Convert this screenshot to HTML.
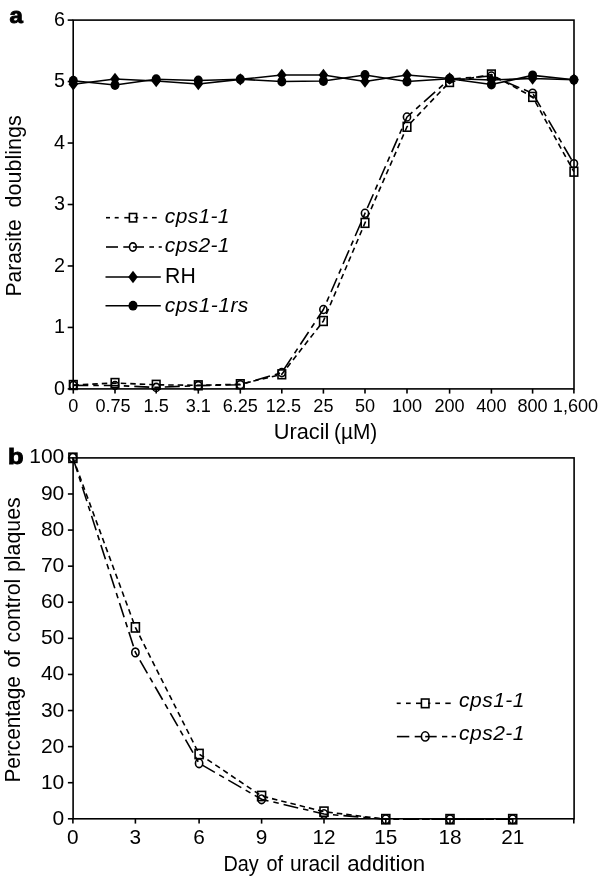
<!DOCTYPE html>
<html><head><meta charset="utf-8"><title>Figure</title>
<style>
html,body{margin:0;padding:0;background:#fff;}
body{width:600px;height:879px;overflow:hidden;}
svg{display:block;}
text{font-family:"Liberation Sans",sans-serif;fill:#000;}
.it{font-style:italic;}
.ls{letter-spacing:0.45px;}
.ls2{letter-spacing:0.8px;}
.pl{font-weight:bold;stroke:#000;stroke-width:0.9px;}
</style></head>
<body>
<svg width="600" height="879" viewBox="0 0 600 879">
<rect x="0" y="0" width="600" height="879" fill="#fff"/>
<rect x="73.2" y="20.1" width="500.80" height="368.80" fill="none" stroke="#000" stroke-width="1.6"/>
<line x1="67.70" y1="388.90" x2="73.20" y2="388.90" stroke="#000" stroke-width="1.6"/>
<text x="64.9" y="394.6" font-size="19.8" text-anchor="end">0</text>
<line x1="67.70" y1="327.43" x2="73.20" y2="327.43" stroke="#000" stroke-width="1.6"/>
<text x="64.9" y="333.13" font-size="19.8" text-anchor="end">1</text>
<line x1="67.70" y1="265.97" x2="73.20" y2="265.97" stroke="#000" stroke-width="1.6"/>
<text x="64.9" y="271.67" font-size="19.8" text-anchor="end">2</text>
<line x1="67.70" y1="204.50" x2="73.20" y2="204.50" stroke="#000" stroke-width="1.6"/>
<text x="64.9" y="210.2" font-size="19.8" text-anchor="end">3</text>
<line x1="67.70" y1="143.03" x2="73.20" y2="143.03" stroke="#000" stroke-width="1.6"/>
<text x="64.9" y="148.73" font-size="19.8" text-anchor="end">4</text>
<line x1="67.70" y1="81.57" x2="73.20" y2="81.57" stroke="#000" stroke-width="1.6"/>
<text x="64.9" y="87.27" font-size="19.8" text-anchor="end">5</text>
<line x1="67.70" y1="20.10" x2="73.20" y2="20.10" stroke="#000" stroke-width="1.6"/>
<text x="64.9" y="25.8" font-size="19.8" text-anchor="end">6</text>
<line x1="73.30" y1="388.90" x2="73.30" y2="393.60" stroke="#000" stroke-width="1.6"/>
<text x="73.3" y="411.7" font-size="18.1" text-anchor="middle">0</text>
<line x1="115.00" y1="388.90" x2="115.00" y2="393.60" stroke="#000" stroke-width="1.6"/>
<text x="113.0" y="411.7" font-size="18.1" text-anchor="middle">0.75</text>
<line x1="156.20" y1="388.90" x2="156.20" y2="393.60" stroke="#000" stroke-width="1.6"/>
<text x="156.2" y="411.7" font-size="18.1" text-anchor="middle">1.5</text>
<line x1="198.30" y1="388.90" x2="198.30" y2="393.60" stroke="#000" stroke-width="1.6"/>
<text x="198.3" y="411.7" font-size="18.1" text-anchor="middle">3.1</text>
<line x1="240.30" y1="388.90" x2="240.30" y2="393.60" stroke="#000" stroke-width="1.6"/>
<text x="240.3" y="411.7" font-size="18.1" text-anchor="middle">6.25</text>
<line x1="281.80" y1="388.90" x2="281.80" y2="393.60" stroke="#000" stroke-width="1.6"/>
<text x="283.4" y="411.7" font-size="18.1" text-anchor="middle">12.5</text>
<line x1="323.40" y1="388.90" x2="323.40" y2="393.60" stroke="#000" stroke-width="1.6"/>
<text x="323.4" y="411.7" font-size="18.1" text-anchor="middle">25</text>
<line x1="365.00" y1="388.90" x2="365.00" y2="393.60" stroke="#000" stroke-width="1.6"/>
<text x="365" y="411.7" font-size="18.1" text-anchor="middle">50</text>
<line x1="407.00" y1="388.90" x2="407.00" y2="393.60" stroke="#000" stroke-width="1.6"/>
<text x="407" y="411.7" font-size="18.1" text-anchor="middle">100</text>
<line x1="449.60" y1="388.90" x2="449.60" y2="393.60" stroke="#000" stroke-width="1.6"/>
<text x="449.6" y="411.7" font-size="18.1" text-anchor="middle">200</text>
<line x1="491.40" y1="388.90" x2="491.40" y2="393.60" stroke="#000" stroke-width="1.6"/>
<text x="491.4" y="411.7" font-size="18.1" text-anchor="middle">400</text>
<line x1="532.60" y1="388.90" x2="532.60" y2="393.60" stroke="#000" stroke-width="1.6"/>
<text x="532.6" y="411.7" font-size="18.1" text-anchor="middle">800</text>
<line x1="573.90" y1="388.90" x2="573.90" y2="393.60" stroke="#000" stroke-width="1.6"/>
<text x="575.5" y="411.7" font-size="18.1" text-anchor="middle">1,600</text>
<polyline points="73.30,385.00 115.00,383.00 156.20,384.80 198.30,385.30 240.30,384.20 281.80,374.30 323.40,321.00 365.00,222.90 407.00,126.80 449.60,82.00 491.40,74.50 532.60,96.90 573.90,171.70" fill="none" stroke="#000" stroke-width="1.6" stroke-linejoin="round" stroke-dasharray="5.5 4"/>
<polyline points="73.30,385.40 115.00,385.50 156.20,387.40 198.30,385.60 240.30,384.70 281.80,372.60 323.40,309.50 365.00,213.30 407.00,117.00 449.60,79.00 491.40,76.00 532.60,93.20 573.90,163.70" fill="none" stroke="#000" stroke-width="1.6" stroke-linejoin="round" stroke-dasharray="15 5 5.5 5"/>
<polyline points="73.30,84.20 115.00,79.00 156.20,81.00 198.30,84.00 240.30,79.40 281.80,75.00 323.40,75.00 365.00,81.50 407.00,75.00 449.60,78.50 491.40,80.00 532.60,78.50 573.90,79.70" fill="none" stroke="#000" stroke-width="1.6" stroke-linejoin="round"/>
<polyline points="73.30,80.80 115.00,85.00 156.20,79.20 198.30,80.50 240.30,79.30 281.80,81.50 323.40,81.00 365.00,75.00 407.00,81.50 449.60,78.70 491.40,84.50 532.60,75.40 573.90,79.70" fill="none" stroke="#000" stroke-width="1.6" stroke-linejoin="round"/>
<rect x="69.50" y="380.60" width="7.6" height="8.8" fill="none" stroke="#000" stroke-width="1.6"/>
<rect x="111.20" y="378.60" width="7.6" height="8.8" fill="none" stroke="#000" stroke-width="1.6"/>
<rect x="152.40" y="380.40" width="7.6" height="8.8" fill="none" stroke="#000" stroke-width="1.6"/>
<rect x="194.50" y="380.90" width="7.6" height="8.8" fill="none" stroke="#000" stroke-width="1.6"/>
<rect x="236.50" y="379.80" width="7.6" height="8.8" fill="none" stroke="#000" stroke-width="1.6"/>
<rect x="278.00" y="369.90" width="7.6" height="8.8" fill="none" stroke="#000" stroke-width="1.6"/>
<rect x="319.60" y="316.60" width="7.6" height="8.8" fill="none" stroke="#000" stroke-width="1.6"/>
<rect x="361.20" y="218.50" width="7.6" height="8.8" fill="none" stroke="#000" stroke-width="1.6"/>
<rect x="403.20" y="122.40" width="7.6" height="8.8" fill="none" stroke="#000" stroke-width="1.6"/>
<rect x="445.80" y="77.60" width="7.6" height="8.8" fill="none" stroke="#000" stroke-width="1.6"/>
<rect x="487.60" y="70.10" width="7.6" height="8.8" fill="none" stroke="#000" stroke-width="1.6"/>
<rect x="528.80" y="92.50" width="7.6" height="8.8" fill="none" stroke="#000" stroke-width="1.6"/>
<rect x="570.10" y="167.30" width="7.6" height="8.8" fill="none" stroke="#000" stroke-width="1.6"/>
<ellipse cx="73.30" cy="385.40" rx="3.6" ry="4.0" fill="none" stroke="#000" stroke-width="1.6"/>
<ellipse cx="115.00" cy="385.50" rx="3.6" ry="4.0" fill="none" stroke="#000" stroke-width="1.6"/>
<ellipse cx="156.20" cy="387.40" rx="3.6" ry="4.0" fill="none" stroke="#000" stroke-width="1.6"/>
<ellipse cx="198.30" cy="385.60" rx="3.6" ry="4.0" fill="none" stroke="#000" stroke-width="1.6"/>
<ellipse cx="240.30" cy="384.70" rx="3.6" ry="4.0" fill="none" stroke="#000" stroke-width="1.6"/>
<ellipse cx="281.80" cy="372.60" rx="3.6" ry="4.0" fill="none" stroke="#000" stroke-width="1.6"/>
<ellipse cx="323.40" cy="309.50" rx="3.6" ry="4.0" fill="none" stroke="#000" stroke-width="1.6"/>
<ellipse cx="365.00" cy="213.30" rx="3.6" ry="4.0" fill="none" stroke="#000" stroke-width="1.6"/>
<ellipse cx="407.00" cy="117.00" rx="3.6" ry="4.0" fill="none" stroke="#000" stroke-width="1.6"/>
<ellipse cx="449.60" cy="79.00" rx="3.6" ry="4.0" fill="none" stroke="#000" stroke-width="1.6"/>
<ellipse cx="491.40" cy="76.00" rx="3.6" ry="4.0" fill="none" stroke="#000" stroke-width="1.6"/>
<ellipse cx="532.60" cy="93.20" rx="3.6" ry="4.0" fill="none" stroke="#000" stroke-width="1.6"/>
<ellipse cx="573.90" cy="163.70" rx="3.6" ry="4.0" fill="none" stroke="#000" stroke-width="1.6"/>
<polygon points="73.30,78.00 78.10,84.20 73.30,90.40 68.50,84.20" fill="#000"/>
<polygon points="115.00,72.80 119.80,79.00 115.00,85.20 110.20,79.00" fill="#000"/>
<polygon points="156.20,74.80 161.00,81.00 156.20,87.20 151.40,81.00" fill="#000"/>
<polygon points="198.30,77.80 203.10,84.00 198.30,90.20 193.50,84.00" fill="#000"/>
<polygon points="240.30,73.20 245.10,79.40 240.30,85.60 235.50,79.40" fill="#000"/>
<polygon points="281.80,68.80 286.60,75.00 281.80,81.20 277.00,75.00" fill="#000"/>
<polygon points="323.40,68.80 328.20,75.00 323.40,81.20 318.60,75.00" fill="#000"/>
<polygon points="365.00,75.30 369.80,81.50 365.00,87.70 360.20,81.50" fill="#000"/>
<polygon points="407.00,68.80 411.80,75.00 407.00,81.20 402.20,75.00" fill="#000"/>
<polygon points="449.60,72.30 454.40,78.50 449.60,84.70 444.80,78.50" fill="#000"/>
<polygon points="491.40,73.80 496.20,80.00 491.40,86.20 486.60,80.00" fill="#000"/>
<polygon points="532.60,72.30 537.40,78.50 532.60,84.70 527.80,78.50" fill="#000"/>
<polygon points="573.90,73.50 578.70,79.70 573.90,85.90 569.10,79.70" fill="#000"/>
<ellipse cx="73.30" cy="80.80" rx="4.5" ry="5.0" fill="#000"/>
<ellipse cx="115.00" cy="85.00" rx="4.5" ry="5.0" fill="#000"/>
<ellipse cx="156.20" cy="79.20" rx="4.5" ry="5.0" fill="#000"/>
<ellipse cx="198.30" cy="80.50" rx="4.5" ry="5.0" fill="#000"/>
<ellipse cx="240.30" cy="79.30" rx="4.5" ry="5.0" fill="#000"/>
<ellipse cx="281.80" cy="81.50" rx="4.5" ry="5.0" fill="#000"/>
<ellipse cx="323.40" cy="81.00" rx="4.5" ry="5.0" fill="#000"/>
<ellipse cx="365.00" cy="75.00" rx="4.5" ry="5.0" fill="#000"/>
<ellipse cx="407.00" cy="81.50" rx="4.5" ry="5.0" fill="#000"/>
<ellipse cx="449.60" cy="78.70" rx="4.5" ry="5.0" fill="#000"/>
<ellipse cx="491.40" cy="84.50" rx="4.5" ry="5.0" fill="#000"/>
<ellipse cx="532.60" cy="75.40" rx="4.5" ry="5.0" fill="#000"/>
<ellipse cx="573.90" cy="79.70" rx="4.5" ry="5.0" fill="#000"/>
<line x1="106.00" y1="217.70" x2="110.00" y2="217.70" stroke="#000" stroke-width="1.6"/>
<line x1="114.70" y1="217.70" x2="118.70" y2="217.70" stroke="#000" stroke-width="1.6"/>
<line x1="124.30" y1="217.70" x2="129.00" y2="217.70" stroke="#000" stroke-width="1.6"/>
<line x1="134.50" y1="217.70" x2="138.20" y2="217.70" stroke="#000" stroke-width="1.6"/>
<line x1="143.30" y1="217.70" x2="147.30" y2="217.70" stroke="#000" stroke-width="1.6"/>
<line x1="152.00" y1="217.70" x2="156.70" y2="217.70" stroke="#000" stroke-width="1.6"/>
<rect x="129.40" y="213.50" width="7.2" height="8.4" fill="none" stroke="#000" stroke-width="1.6"/>
<text x="164.8" y="223.0" font-size="21" textLength="64.7" lengthAdjust="spacing" class="it">cps1-1</text>
<line x1="106.00" y1="247.00" x2="118.00" y2="247.00" stroke="#000" stroke-width="1.6"/>
<line x1="123.30" y1="247.00" x2="129.50" y2="247.00" stroke="#000" stroke-width="1.6"/>
<line x1="133.00" y1="247.00" x2="144.00" y2="247.00" stroke="#000" stroke-width="1.6"/>
<line x1="149.30" y1="247.00" x2="154.00" y2="247.00" stroke="#000" stroke-width="1.6"/>
<line x1="158.70" y1="247.00" x2="161.80" y2="247.00" stroke="#000" stroke-width="1.6"/>
<ellipse cx="132.90" cy="247.00" rx="3.4" ry="4.1" fill="none" stroke="#000" stroke-width="1.6"/>
<text x="164.8" y="252.3" font-size="21" textLength="64.7" lengthAdjust="spacing" class="it">cps2-1</text>
<line x1="105.50" y1="277.00" x2="160.80" y2="277.00" stroke="#000" stroke-width="1.6"/>
<polygon points="133.00,270.70 137.80,277.00 133.00,283.30 128.20,277.00" fill="#000"/>
<text x="165.0" y="283.4" font-size="21.2" textLength="30.8" lengthAdjust="spacing">RH</text>
<line x1="105.50" y1="305.70" x2="160.80" y2="305.70" stroke="#000" stroke-width="1.6"/>
<ellipse cx="133.00" cy="305.70" rx="4.5" ry="4.9" fill="#000"/>
<text x="164.8" y="312.1" font-size="21" textLength="83.5" lengthAdjust="spacing" class="it">cps1-1rs</text>
<text x="273.8" y="439.3" font-size="22.3" textLength="55.6" lengthAdjust="spacingAndGlyphs">Uracil</text>
<text x="334.0" y="439.3" font-size="22.3" textLength="43.3" lengthAdjust="spacingAndGlyphs">(µM)</text>
<text transform="translate(21.3,296.6) rotate(-90)" font-size="22" textLength="77.2" lengthAdjust="spacingAndGlyphs">Parasite</text>
<text transform="translate(21.3,207.5) rotate(-90)" font-size="22" textLength="92.2" lengthAdjust="spacingAndGlyphs">doublings</text>
<text transform="translate(9.6,23.1) scale(1.12,1)" class="pl" font-size="21.5">a</text>
<rect x="73.1" y="457.9" width="501.00" height="360.90" fill="none" stroke="#000" stroke-width="1.6"/>
<line x1="67.90" y1="818.80" x2="73.10" y2="818.80" stroke="#000" stroke-width="1.6"/>
<text x="64.3" y="825.2" font-size="21" text-anchor="end">0</text>
<line x1="67.90" y1="782.71" x2="73.10" y2="782.71" stroke="#000" stroke-width="1.6"/>
<text x="64.3" y="789.02" font-size="21" text-anchor="end">10</text>
<line x1="67.90" y1="746.62" x2="73.10" y2="746.62" stroke="#000" stroke-width="1.6"/>
<text x="64.3" y="752.84" font-size="21" text-anchor="end">20</text>
<line x1="67.90" y1="710.53" x2="73.10" y2="710.53" stroke="#000" stroke-width="1.6"/>
<text x="64.3" y="716.66" font-size="21" text-anchor="end">30</text>
<line x1="67.90" y1="674.44" x2="73.10" y2="674.44" stroke="#000" stroke-width="1.6"/>
<text x="64.3" y="680.48" font-size="21" text-anchor="end">40</text>
<line x1="67.90" y1="638.35" x2="73.10" y2="638.35" stroke="#000" stroke-width="1.6"/>
<text x="64.3" y="644.3" font-size="21" text-anchor="end">50</text>
<line x1="67.90" y1="602.26" x2="73.10" y2="602.26" stroke="#000" stroke-width="1.6"/>
<text x="64.3" y="608.12" font-size="21" text-anchor="end">60</text>
<line x1="67.90" y1="566.17" x2="73.10" y2="566.17" stroke="#000" stroke-width="1.6"/>
<text x="64.3" y="571.94" font-size="21" text-anchor="end">70</text>
<line x1="67.90" y1="530.08" x2="73.10" y2="530.08" stroke="#000" stroke-width="1.6"/>
<text x="64.3" y="535.76" font-size="21" text-anchor="end">80</text>
<line x1="67.90" y1="493.99" x2="73.10" y2="493.99" stroke="#000" stroke-width="1.6"/>
<text x="64.3" y="499.58" font-size="21" text-anchor="end">90</text>
<line x1="67.90" y1="457.90" x2="73.10" y2="457.90" stroke="#000" stroke-width="1.6"/>
<text x="64.3" y="463.4" font-size="21" text-anchor="end">100</text>
<line x1="72.90" y1="818.80" x2="72.90" y2="823.60" stroke="#000" stroke-width="1.6"/>
<text x="72.9" y="843.8" font-size="20.8" text-anchor="middle">0</text>
<line x1="135.40" y1="818.80" x2="135.40" y2="823.60" stroke="#000" stroke-width="1.6"/>
<text x="135.4" y="843.8" font-size="20.8" text-anchor="middle">3</text>
<line x1="199.10" y1="818.80" x2="199.10" y2="823.60" stroke="#000" stroke-width="1.6"/>
<text x="199.1" y="843.8" font-size="20.8" text-anchor="middle">6</text>
<line x1="261.60" y1="818.80" x2="261.60" y2="823.60" stroke="#000" stroke-width="1.6"/>
<text x="261.6" y="843.8" font-size="20.8" text-anchor="middle">9</text>
<line x1="324.00" y1="818.80" x2="324.00" y2="823.60" stroke="#000" stroke-width="1.6"/>
<text x="324.0" y="843.8" font-size="20.8" text-anchor="middle">12</text>
<line x1="385.80" y1="818.80" x2="385.80" y2="823.60" stroke="#000" stroke-width="1.6"/>
<text x="385.8" y="843.8" font-size="20.8" text-anchor="middle">15</text>
<line x1="450.00" y1="818.80" x2="450.00" y2="823.60" stroke="#000" stroke-width="1.6"/>
<text x="450.0" y="843.8" font-size="20.8" text-anchor="middle">18</text>
<line x1="512.70" y1="818.80" x2="512.70" y2="823.60" stroke="#000" stroke-width="1.6"/>
<text x="512.7" y="843.8" font-size="20.8" text-anchor="middle">21</text>
<line x1="573.80" y1="818.80" x2="573.80" y2="823.60" stroke="#000" stroke-width="1.6"/>
<polyline points="72.90,457.80 135.40,627.40 199.10,754.00 261.60,796.00 324.00,811.70 385.80,819.20 450.00,819.20 512.70,819.20" fill="none" stroke="#000" stroke-width="1.6" stroke-linejoin="round" stroke-dasharray="5.5 4"/>
<polyline points="72.90,457.80 135.40,652.40 199.10,763.30 261.60,799.30 324.00,814.00 385.80,819.20 450.00,819.20 512.70,819.20" fill="none" stroke="#000" stroke-width="1.6" stroke-linejoin="round" stroke-dasharray="15 5 5.5 5"/>
<rect x="68.90" y="453.20" width="8.0" height="9.2" fill="none" stroke="#000" stroke-width="1.6"/>
<rect x="131.40" y="622.80" width="8.0" height="9.2" fill="none" stroke="#000" stroke-width="1.6"/>
<rect x="195.10" y="749.40" width="8.0" height="9.2" fill="none" stroke="#000" stroke-width="1.6"/>
<rect x="257.60" y="791.40" width="8.0" height="9.2" fill="none" stroke="#000" stroke-width="1.6"/>
<rect x="320.00" y="807.10" width="8.0" height="9.2" fill="none" stroke="#000" stroke-width="1.6"/>
<rect x="381.80" y="814.60" width="8.0" height="9.2" fill="none" stroke="#000" stroke-width="1.6"/>
<rect x="446.00" y="814.60" width="8.0" height="9.2" fill="none" stroke="#000" stroke-width="1.6"/>
<rect x="508.70" y="814.60" width="8.0" height="9.2" fill="none" stroke="#000" stroke-width="1.6"/>
<ellipse cx="72.90" cy="457.80" rx="3.65" ry="4.3" fill="none" stroke="#000" stroke-width="1.6"/>
<ellipse cx="135.40" cy="652.40" rx="3.65" ry="4.3" fill="none" stroke="#000" stroke-width="1.6"/>
<ellipse cx="199.10" cy="763.30" rx="3.65" ry="4.3" fill="none" stroke="#000" stroke-width="1.6"/>
<ellipse cx="261.60" cy="799.30" rx="3.65" ry="4.3" fill="none" stroke="#000" stroke-width="1.6"/>
<ellipse cx="324.00" cy="814.00" rx="3.65" ry="4.3" fill="none" stroke="#000" stroke-width="1.6"/>
<ellipse cx="385.80" cy="819.20" rx="3.65" ry="4.3" fill="none" stroke="#000" stroke-width="1.6"/>
<ellipse cx="450.00" cy="819.20" rx="3.65" ry="4.3" fill="none" stroke="#000" stroke-width="1.6"/>
<ellipse cx="512.70" cy="819.20" rx="3.65" ry="4.3" fill="none" stroke="#000" stroke-width="1.6"/>
<line x1="396.70" y1="703.30" x2="400.70" y2="703.30" stroke="#000" stroke-width="1.6"/>
<line x1="406.00" y1="703.30" x2="410.70" y2="703.30" stroke="#000" stroke-width="1.6"/>
<line x1="416.00" y1="703.30" x2="421.20" y2="703.30" stroke="#000" stroke-width="1.6"/>
<line x1="428.00" y1="703.30" x2="430.40" y2="703.30" stroke="#000" stroke-width="1.6"/>
<line x1="435.30" y1="703.30" x2="440.00" y2="703.30" stroke="#000" stroke-width="1.6"/>
<line x1="445.30" y1="703.30" x2="450.70" y2="703.30" stroke="#000" stroke-width="1.6"/>
<rect x="421.43" y="699.02" width="7.55" height="8.65" fill="none" stroke="#000" stroke-width="1.6"/>
<text x="459.0" y="706.7" font-size="21" textLength="65.5" lengthAdjust="spacing" class="it">cps1-1</text>
<line x1="396.90" y1="736.60" x2="409.30" y2="736.60" stroke="#000" stroke-width="1.6"/>
<line x1="414.70" y1="736.60" x2="421.20" y2="736.60" stroke="#000" stroke-width="1.6"/>
<line x1="425.20" y1="736.60" x2="436.70" y2="736.60" stroke="#000" stroke-width="1.6"/>
<line x1="442.00" y1="736.60" x2="447.30" y2="736.60" stroke="#000" stroke-width="1.6"/>
<line x1="451.60" y1="736.60" x2="456.00" y2="736.60" stroke="#000" stroke-width="1.6"/>
<ellipse cx="425.20" cy="736.40" rx="3.8" ry="4.6" fill="none" stroke="#000" stroke-width="1.6"/>
<text x="459.0" y="739.6" font-size="21" textLength="65.5" lengthAdjust="spacing" class="it">cps2-1</text>
<text x="223.4" y="870.6" font-size="22.3" textLength="35.3" lengthAdjust="spacingAndGlyphs">Day</text>
<text x="266.5" y="870.6" font-size="22.3" textLength="16.6" lengthAdjust="spacingAndGlyphs">of</text>
<text x="289.9" y="870.6" font-size="22.3" textLength="50" lengthAdjust="spacingAndGlyphs">uracil</text>
<text x="347.2" y="870.6" font-size="22.3" textLength="78" lengthAdjust="spacingAndGlyphs">addition</text>
<text transform="translate(20.3,782.5) rotate(-90)" font-size="22" textLength="106.3" lengthAdjust="spacingAndGlyphs">Percentage</text>
<text transform="translate(20.3,667.5) rotate(-90)" font-size="22" textLength="17.4" lengthAdjust="spacingAndGlyphs">of</text>
<text transform="translate(20.3,642.4) rotate(-90)" font-size="22" textLength="63.6" lengthAdjust="spacingAndGlyphs">control</text>
<text transform="translate(20.3,572.0) rotate(-90)" font-size="22" textLength="74.7" lengthAdjust="spacingAndGlyphs">plaques</text>
<text transform="translate(7.9,463.8) scale(1.2,1)" class="pl" font-size="21.2">b</text>
</svg>
</body></html>
